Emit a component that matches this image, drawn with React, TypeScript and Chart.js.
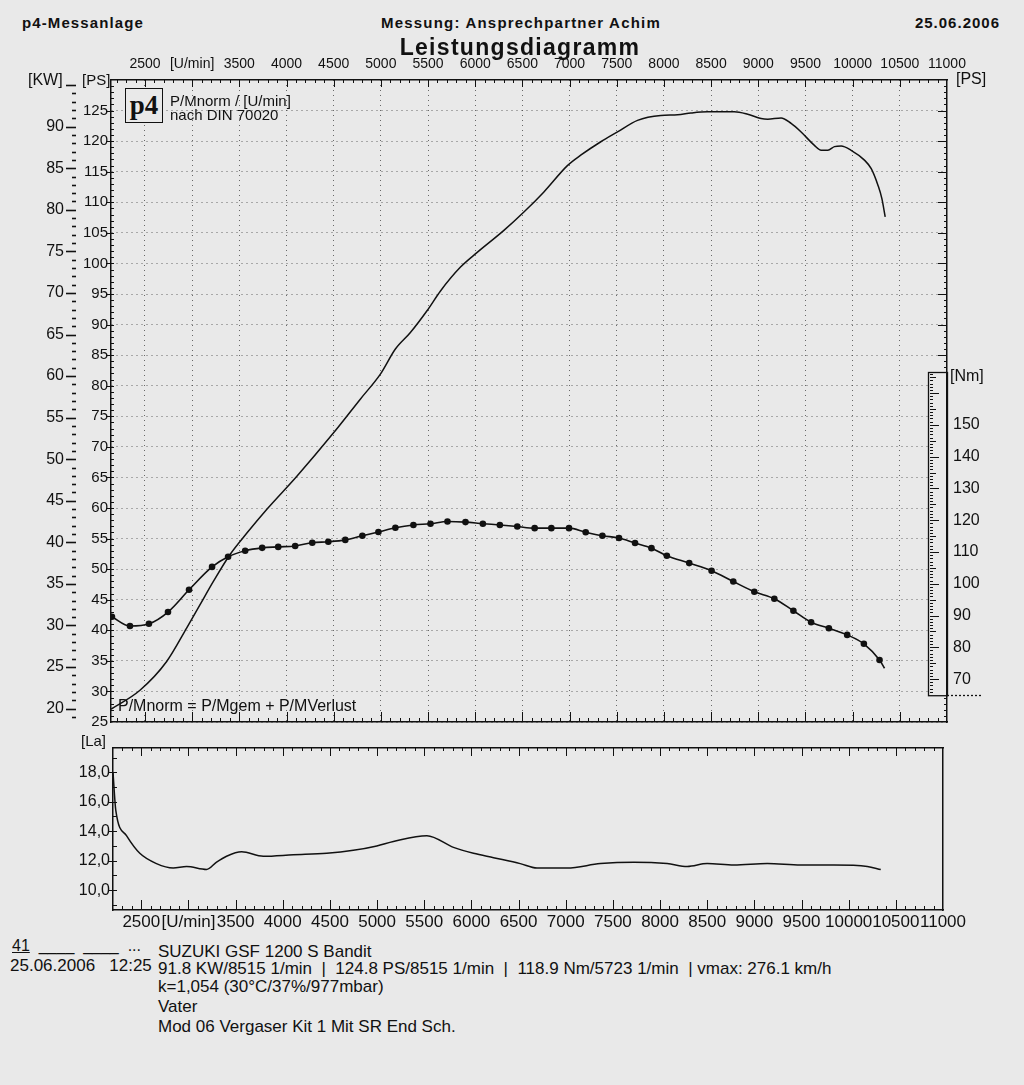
import React, { useEffect, useRef } from 'react';
import { Chart, registerables } from 'chart.js';

Chart.register(...registerables);

const FONT = '"Liberation Sans", Arial, Helvetica, sans-serif';
const BG = '#e9e9e9';
const INK = '#111111';
const GRID = 'rgba(60,60,60,0.75)';

// ---------------- data (read from the dyno sheet) ----------------
const POWER_RPM = [2140, 2447, 2730, 2943, 3084, 3225, 3402, 3580, 3792, 4110, 4499, 4782, 4995, 5154, 5313, 5491, 5632, 5844, 6021, 6304, 6516, 6728, 6977, 7118, 7331, 7508, 7720, 7967, 8145, 8286, 8463, 8746, 8888, 9030, 9100, 9241, 9348, 9454, 9595, 9666, 9737, 9807, 9878, 9984, 10125, 10197, 10268, 10310, 10345];
const POWER_PS = [27.1, 30.2, 34.9, 40.4, 44.2, 48.0, 52.4, 55.9, 59.8, 65.2, 72.3, 77.8, 81.9, 86.0, 88.7, 92.3, 95.5, 99.4, 101.8, 105.4, 108.4, 111.7, 116.0, 117.7, 119.9, 121.5, 123.4, 124.2, 124.3, 124.6, 124.8, 124.8, 124.4, 123.7, 123.6, 123.8, 122.9, 121.5, 119.3, 118.5, 118.5, 119.1, 119.2, 118.5, 116.9, 115.5, 112.8, 110.6, 107.6];

const TORQUE_RPM = [2150, 2341, 2542, 2744, 2967, 3211, 3381, 3562, 3742, 3912, 4092, 4273, 4443, 4623, 4804, 4974, 5154, 5345, 5526, 5706, 5897, 6081, 6261, 6446, 6630, 6807, 6994, 7171, 7348, 7524, 7694, 7868, 8031, 8268, 8505, 8735, 8958, 9170, 9372, 9560, 9748, 9942, 10119, 10285, 10338];
const TORQUE_NM = [89.6, 86.7, 87.4, 91.1, 98.1, 105.3, 108.5, 110.4, 111.3, 111.6, 111.9, 112.9, 113.2, 113.8, 115.1, 116.3, 117.6, 118.5, 118.9, 119.6, 119.4, 118.9, 118.5, 118.0, 117.5, 117.5, 117.5, 116.2, 115.1, 114.4, 112.8, 111.2, 108.8, 106.5, 104.1, 100.7, 97.5, 95.3, 91.5, 87.9, 86.0, 83.9, 81.1, 76.0, 73.4];

const LAMBDA_RPM = [2200, 2230, 2343, 2484, 2661, 2838, 2980, 3192, 3298, 3404, 3564, 3793, 4112, 4466, 4748, 4997, 5173, 5528, 5810, 6022, 6235, 6518, 6695, 7014, 7367, 7721, 8075, 8288, 8500, 8783, 9137, 9491, 9844, 10198, 10340];
const LAMBDA_LA = [18.0, 15.4, 13.7, 12.5, 11.8, 11.5, 11.6, 11.4, 11.9, 12.3, 12.6, 12.3, 12.4, 12.5, 12.7, 13.0, 13.3, 13.7, 12.9, 12.5, 12.2, 11.8, 11.5, 11.5, 11.8, 11.9, 11.8, 11.6, 11.8, 11.7, 11.8, 11.7, 11.7, 11.6, 11.4];

// ---------------- axes ----------------
const RPM_MIN = 2140;
const RPM_MAX = 11000;
const LOWER_RPM_MIN = 2200;
const PS_MIN = 25;
const PS_MAX = 130;
const KW_PER_PS = 0.7355;
const NM_MIN = 56.5;
const NM_MAX = 258.5;
const LA_MIN = 8.65;
const LA_MAX = 19.65;
const NM_BOX = [65, 166.7];

const RPM_GRID = [2500, 3000, 3500, 4000, 4500, 5000, 5500, 6000, 6500, 7000, 7500, 8000, 8500, 9000, 9500, 10000, 10500];
const RPM_LABELS = [2500, 3000, 3500, 4000, 4500, 5000, 5500, 6000, 6500, 7000, 7500, 8000, 8500, 9000, 9500, 10000, 10500, 11000];
const PS_LEFT_TICKS = [25, 30, 35, 40, 45, 50, 55, 60, 65, 70, 75, 80, 85, 90, 95, 100, 105, 110, 115, 120, 125];
const PS_RIGHT_TICKS = [25, 90, 95, 100, 105, 110, 115, 120, 125];
const KW_TICKS = [20, 25, 30, 35, 40, 45, 50, 55, 60, 65, 70, 75, 80, 85, 90];
const NM_TICKS = [70, 80, 90, 100, 110, 120, 130, 140, 150];
const LA_TICKS = [10, 12, 14, 16, 18];

const setTicks = (vals: number[]) => (s: any) => { s.ticks = vals.map((v) => ({ value: v })); };
const fixW = (w: number) => (s: any) => { s.width = w; };
const fixH = (h: number) => (s: any) => { s.height = h; };
const rpmLabel = (v: any) => (Number(v) === 3000 ? '[U/min]' : String(v));

const line = (ctx: any, x1: number, y1: number, x2: number, y2: number) => {
  ctx.beginPath();
  ctx.moveTo(x1, y1);
  ctx.lineTo(x2, y2);
  ctx.stroke();
};

const upperDeco = {
  id: 'upperDeco',
  afterDraw(chart: any) {
    const { ctx, chartArea: ca, scales } = chart;
    const sx = scales.x, sy = scales.y, skw = scales.yKW, snm = scales.yNm;
    ctx.save();
    ctx.strokeStyle = INK;
    ctx.lineWidth = 1;
    for (let r = 2200; r < RPM_MAX; r += 100) {
      const px = Math.round(sx.getPixelForValue(r)) + 0.5;
      const major = r % 500 === 0;
      line(ctx, px, ca.top, px, ca.top + (major ? 7 : 3));
      line(ctx, px, ca.bottom, px, ca.bottom - (major ? 10 : 4));
    }
    const boxTop = snm.getPixelForValue(NM_BOX[1]);
    const boxBot = snm.getPixelForValue(NM_BOX[0]);
    const boxL = ca.right - 19;
    for (let p = 26; p < PS_MAX; p++) {
      const py = Math.round(sy.getPixelForValue(p)) + 0.5;
      const major = p % 5 === 0;
      line(ctx, ca.left, py, ca.left + 3, py);
      if (major) line(ctx, ca.left - 5, py, ca.left, py);
      if (py < boxTop - 2 || py > boxBot + 2) line(ctx, ca.right - (major ? 9 : 3), py, ca.right, py);
    }
    ctx.lineWidth = 1.6;
    const kx = skw.right;
    for (let k = 19; k <= 95; k++) {
      const py = Math.round(skw.getPixelForValue(k)) + 0.5;
      if (k % 5 === 0) line(ctx, kx - 5, py, kx + 5, py);
      else line(ctx, kx + 1, py, kx + 5, py);
    }
    // Nm scale box
    ctx.fillStyle = BG;
    ctx.fillRect(boxL, boxTop, ca.right - boxL - 1, boxBot - boxTop);
    ctx.lineWidth = 1.3;
    ctx.strokeRect(Math.round(boxL) + 0.5, Math.round(boxTop) + 0.5, ca.right - boxL, boxBot - boxTop);
    ctx.setLineDash([2, 2]);
    line(ctx, ca.right, Math.round(boxBot) + 0.5, ca.right + 36, Math.round(boxBot) + 0.5);
    ctx.setLineDash([]);
    ctx.lineWidth = 1;
    for (let n = 66; n <= 166; n++) {
      const py = Math.round(snm.getPixelForValue(n)) + 0.5;
      const len = n % 10 === 0 ? 9 : n % 5 === 0 ? 6 : 3;
      line(ctx, boxL + 2, py, boxL + 2 + len, py);
    }
    ctx.restore();
  },
};

const lowerDeco = {
  id: 'lowerDeco',
  afterDraw(chart: any) {
    const { ctx, chartArea: ca, scales } = chart;
    const sx = scales.x, sy = scales.y;
    ctx.save();
    ctx.strokeStyle = INK;
    ctx.lineWidth = 1;
    for (let r = 2300; r < RPM_MAX; r += 100) {
      const px = Math.round(sx.getPixelForValue(r)) + 0.5;
      const major = r % 500 === 0;
      line(ctx, px, ca.top, px, ca.top + (major ? 8 : 3));
      line(ctx, px, ca.bottom, px, ca.bottom - (major ? 10 : 4));
    }
    for (let v = 9; v <= 19; v++) {
      const py = Math.round(sy.getPixelForValue(v)) + 0.5;
      line(ctx, ca.left, py, ca.left + 4, py);
      if (v % 2 === 0) line(ctx, ca.left - 5, py, ca.left, py);
    }
    ctx.restore();
  },
};

function T({ x, y, s = 14, b = false, a = 'left', ls = 0, children }: any) {
  const st: any = {
    position: 'absolute',
    top: y - Math.round(s * 0.6),
    fontSize: s,
    lineHeight: `${Math.round(s * 1.2)}px`,
    fontWeight: b ? 700 : 400,
    whiteSpace: 'pre',
    fontFamily: FONT,
    color: INK,
    letterSpacing: ls ? `${ls}px` : undefined,
  };
  if (a === 'left') st.left = x;
  else if (a === 'right') st.right = 1024 - x;
  else { st.left = x; st.transform = 'translateX(-50%)'; }
  return <div style={st}>{children}</div>;
}

export default function App() {
  const upRef = useRef<HTMLCanvasElement>(null);
  const loRef = useRef<HTMLCanvasElement>(null);

  useEffect(() => {
    document.body.style.margin = '0';
    document.body.style.background = BG;
    Chart.defaults.font.family = FONT;
    Chart.defaults.color = INK;

    const tickFont = (size: number) => ({ size, family: FONT });

    const up = new Chart(upRef.current as HTMLCanvasElement, {
      type: 'line',
      data: {
        datasets: [
          {
            label: 'P/Mnorm',
            data: POWER_RPM.map((r, i) => ({ x: r, y: POWER_PS[i] })),
            xAxisID: 'x',
            yAxisID: 'y',
            borderColor: INK,
            borderWidth: 1.5,
            pointRadius: 0,
            cubicInterpolationMode: 'monotone',
            fill: false,
          },
          {
            label: 'Drehmoment',
            data: TORQUE_RPM.map((r, i) => ({ x: r, y: TORQUE_NM[i] })),
            xAxisID: 'x',
            yAxisID: 'yNm',
            borderColor: INK,
            backgroundColor: INK,
            borderWidth: 1.6,
            pointRadius: TORQUE_RPM.map((_, i) => (i === TORQUE_RPM.length - 1 ? 0 : 3.3)),
            pointBackgroundColor: INK,
            pointBorderWidth: 0,
            cubicInterpolationMode: 'monotone',
            fill: false,
          },
        ],
      },
      options: {
        animation: false,
        responsive: false,
        events: [],
        layout: { padding: { left: 20, right: 10, top: 15, bottom: 18 } },
        plugins: { legend: { display: false }, tooltip: { enabled: false }, title: { display: false } },
        scales: {
          x: {
            type: 'linear', position: 'bottom', min: RPM_MIN, max: RPM_MAX,
            afterBuildTicks: setTicks(RPM_GRID), afterFit: fixH(0),
            ticks: { display: false },
            grid: { color: GRID, lineWidth: 1, drawTicks: false },
            border: { display: true, color: INK, width: 1.5, dash: [1, 4] },
          },
          x2: {
            type: 'linear', position: 'top', min: RPM_MIN, max: RPM_MAX,
            afterBuildTicks: setTicks(RPM_LABELS), afterFit: fixH(25),
            ticks: { autoSkip: false, maxRotation: 0, minRotation: 0, padding: 7, color: INK, font: tickFont(14), callback: rpmLabel },
            grid: { display: false, drawTicks: false },
            border: { display: true, color: INK, width: 1.5 },
          },
          y: {
            type: 'linear', position: 'left', weight: 0, min: PS_MIN, max: PS_MAX,
            afterBuildTicks: setTicks(PS_LEFT_TICKS), afterFit: fixW(40),
            ticks: { padding: 3, color: INK, font: tickFont(15) },
            grid: { color: GRID, lineWidth: 1, drawTicks: false },
            border: { display: true, color: INK, width: 1.5, dash: [1, 4] },
          },
          yKW: {
            type: 'linear', position: 'left', weight: 1, min: PS_MIN * KW_PER_PS, max: PS_MAX * KW_PER_PS,
            afterBuildTicks: setTicks(KW_TICKS), afterFit: fixW(51),
            ticks: { padding: 7, color: INK, font: tickFont(16) },
            grid: { display: false, drawTicks: false },
            border: { display: false },
          },
          yR: {
            type: 'linear', position: 'right', weight: 0, min: PS_MIN, max: PS_MAX,
            afterBuildTicks: setTicks(PS_RIGHT_TICKS), afterFit: fixW(0),
            ticks: { padding: 8, color: INK, font: tickFont(16) },
            grid: { display: false, drawTicks: false },
            border: { display: true, color: INK, width: 1.5 },
          },
          yNm: {
            type: 'linear', position: 'right', weight: 1, min: NM_MIN, max: NM_MAX,
            afterBuildTicks: setTicks(NM_TICKS), afterFit: fixW(67),
            ticks: { padding: 6, color: INK, font: tickFont(16) },
            grid: { display: false, drawTicks: false },
            border: { display: false },
          },
        },
      } as any,
      plugins: [upperDeco],
    } as any);

    const lo = new Chart(loRef.current as HTMLCanvasElement, {
      type: 'line',
      data: {
        datasets: [
          {
            label: 'Lambda',
            data: LAMBDA_RPM.map((r, i) => ({ x: r, y: LAMBDA_LA[i] })),
            borderColor: INK,
            borderWidth: 1.5,
            pointRadius: 0,
            cubicInterpolationMode: 'monotone',
            fill: false,
          },
        ],
      },
      options: {
        animation: false,
        responsive: false,
        events: [],
        layout: { padding: { left: 0, right: 81, top: 18, bottom: 0 } },
        plugins: { legend: { display: false }, tooltip: { enabled: false } },
        scales: {
          x: {
            type: 'linear', position: 'bottom', min: LOWER_RPM_MIN, max: RPM_MAX,
            afterBuildTicks: setTicks(RPM_LABELS), afterFit: fixH(25),
            ticks: { autoSkip: false, maxRotation: 0, minRotation: 0, padding: 2, color: INK, font: tickFont(17), callback: rpmLabel },
            grid: { display: false, drawTicks: false },
            border: { display: true, color: INK, width: 1.5 },
          },
          xT: {
            type: 'linear', position: 'top', min: LOWER_RPM_MIN, max: RPM_MAX, afterFit: fixH(0),
            ticks: { display: false },
            grid: { display: false, drawTicks: false },
            border: { display: true, color: INK, width: 1.5 },
          },
          y: {
            type: 'linear', position: 'left', min: LA_MIN, max: LA_MAX,
            afterBuildTicks: setTicks(LA_TICKS), afterFit: fixW(113),
            ticks: { padding: 3, color: INK, font: tickFont(16), callback: (v: any) => Number(v).toFixed(1).replace('.', ',') },
            grid: { display: false, drawTicks: false },
            border: { display: true, color: INK, width: 1.5 },
          },
          yR: {
            type: 'linear', position: 'right', min: LA_MIN, max: LA_MAX, afterFit: fixW(0),
            ticks: { display: false },
            grid: { display: false, drawTicks: false },
            border: { display: true, color: INK, width: 1.5 },
          },
        },
      } as any,
      plugins: [lowerDeco],
    } as any);

    return () => {
      up.destroy();
      lo.destroy();
    };
  }, []);

  return (
    <div style={{ position: 'relative', width: 1024, height: 1085, background: BG, overflow: 'hidden', fontFamily: FONT }}>
      <canvas ref={upRef} width={1024} height={700} style={{ position: 'absolute', left: 0, top: 40 }} />
      <canvas ref={loRef} width={1024} height={205} style={{ position: 'absolute', left: 0, top: 730 }} />

      <T x={22} y={23} s={15} b ls={1.1}>p4-Messanlage</T>
      <T x={521} y={23} s={15} b a="center" ls={1.2}>Messung: Ansprechpartner Achim</T>
      <T x={1000} y={23} s={15} b a="right" ls={1}>25.06.2006</T>
      <T x={520} y={47} s={23} b a="center" ls={1.3}>Leistungsdiagramm</T>

      <T x={28} y={80} s={16}>[KW]</T>
      <T x={82} y={80} s={15}>[PS]</T>
      <T x={956} y={79} s={16}>[PS]</T>
      <T x={950} y={376} s={16}>[Nm]</T>
      <T x={81} y={741} s={15}>[La]</T>

      <div style={{ position: 'absolute', left: 125, top: 88, width: 36, height: 33, border: '1.5px solid #111', background: BG, textAlign: 'center', fontFamily: '"Liberation Serif", "DejaVu Serif", serif', fontWeight: 700, fontSize: 27, lineHeight: '33px', color: INK }}>p4</div>
      <T x={170} y={101} s={15}>P/Mnorm / [U/min]</T>
      <T x={170} y={115} s={15}>nach DIN 70020</T>
      <T x={118} y={706} s={16}>P/Mnorm = P/Mgem + P/MVerlust</T>

      <T x={12} y={946} s={16}><span style={{ textDecoration: 'underline' }}>41</span>{'  ____  ____  ...'}</T>
      <T x={10} y={966} s={17}>25.06.2006   12:25</T>
      <T x={158} y={952} s={17}>SUZUKI GSF 1200 S Bandit</T>
      <T x={158} y={969} s={17}>91.8 KW/8515 1/min  |  124.8 PS/8515 1/min  |  118.9 Nm/5723 1/min  | vmax: 276.1 km/h</T>
      <T x={158} y={987} s={17}>k=1,054 (30°C/37%/977mbar)</T>
      <T x={158} y={1007} s={17}>Vater</T>
      <T x={158} y={1027} s={17}>Mod 06 Vergaser Kit 1 Mit SR End Sch.</T>
    </div>
  );
}
